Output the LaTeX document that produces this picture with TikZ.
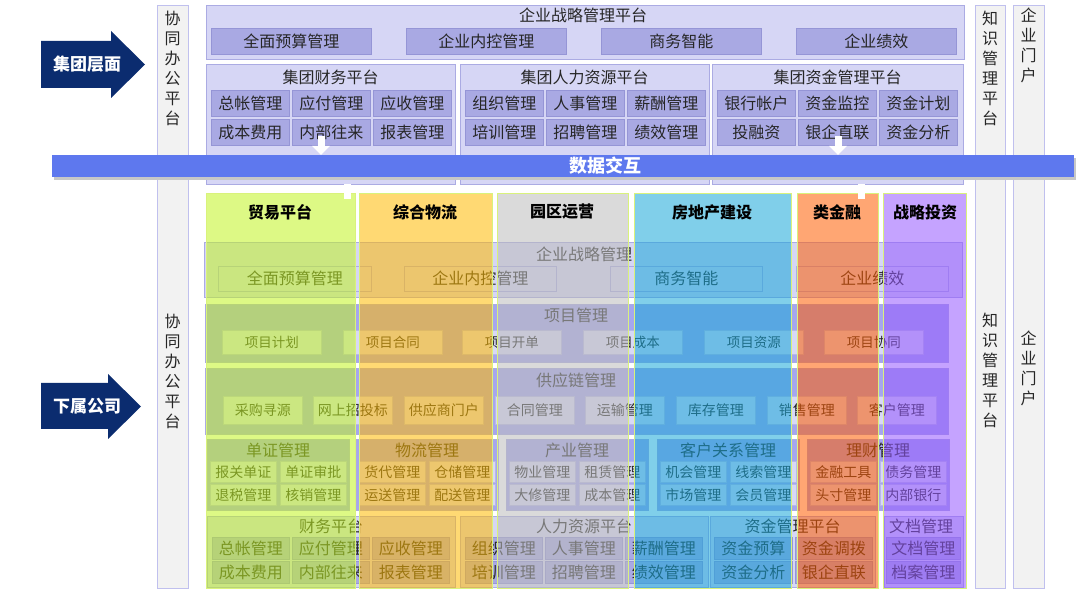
\documentclass[tikz,border=0pt]{standalone}
\usepackage{fontspec}
\setmainfont{Noto Sans CJK SC}
\usetikzlibrary{arrows.meta}
\usepackage{xcolor}
\definecolor{navy}{HTML}{0B2C6F}
\definecolor{ink}{HTML}{262626}
\definecolor{lav}{HTML}{D6D6F5}
\definecolor{lavline}{HTML}{ABABE3}
\definecolor{lavcell}{HTML}{A9A9E3}
\definecolor{lavcellline}{HTML}{9595D6}
\definecolor{lavdeep}{HTML}{A6A6EE}
\definecolor{lavpale}{HTML}{D8D8F6}
\definecolor{paleline}{HTML}{B8B8E8}
\definecolor{sidegray}{HTML}{F2F2F2}
\definecolor{sideline}{HTML}{C0C0EE}
\definecolor{bandblue}{HTML}{5E78EE}
\definecolor{lanegreen}{HTML}{C1F421}
\definecolor{laneyellow}{HTML}{FFBA00}
\definecolor{lanegray}{HTML}{BCBCBC}
\definecolor{laneblue}{HTML}{18A8D9}
\definecolor{laneorange}{HTML}{FF5D00}
\definecolor{lanepurple}{HTML}{9658FF}
\definecolor{laneedge}{HTML}{D9F27C}

\begin{document}
\begin{tikzpicture}[
    x=1pt,
    y=-1pt,
    font=\fontsize{16pt}{20pt}\selectfont,
    sidebar/.style={draw=sideline, fill=sidegray, line width=0.8pt, anchor=north west, inner sep=0pt, minimum height=583pt},
    sidetext/.style={text=ink, align=center, inner sep=0pt},
    leveltext/.style={text=white, inner sep=0pt, font=\fontsize{17pt}{20pt}\selectfont\bfseries},
    platbox/.style={draw=lavline, fill=lav, line width=0.6pt, anchor=north west, inner sep=0pt},
    plattitle/.style={text=ink, inner sep=0pt},
    platcell/.style={draw=lavcellline, fill=lavcell, line width=0.5pt, anchor=north west, inner sep=0pt, text=ink, minimum width=78pt, minimum height=26pt},
    modlight/.style={draw=lavline, fill=lav, line width=0.6pt, anchor=north west, inner sep=0pt},
    moddeep/.style={draw=lavline, fill=lavdeep, line width=0.6pt, anchor=north west, inner sep=0pt},
    modpale/.style={draw=paleline, fill=lavpale, line width=0.5pt, anchor=north west, inner sep=0pt, text=ink},
    smallcell/.style={modpale, font=\fontsize{14pt}{16pt}\selectfont},
    lane/.style={draw=laneedge, line width=0.8pt, fill opacity=0.55, anchor=north west, inner sep=0pt, minimum height=395pt},
    lanehead/.style={text=black, inner sep=0pt, font=\fontsize{16pt}{20pt}\selectfont\bfseries},
    bus/.style={fill=bandblue, anchor=north west, inner sep=0pt, minimum width=1022pt, minimum height=22pt},
    bustext/.style={text=white, inner sep=0pt, font=\fontsize{18pt}{20pt}\selectfont\bfseries},
    pushdown/.style={white, line width=7pt, -{Triangle[width=17pt,length=9pt]}},
    stub/.style={white, line width=7pt}
  ]
  \useasboundingbox (0,0) rectangle (1080,593);

  % side platforms
  \node[sidebar, minimum width=31pt] (office) at (157,5) {};
  \node[sidebar, minimum width=30pt] (know) at (975,5) {};
  \node[sidebar, minimum width=31pt] (portal) at (1013,5) {};
  \node[sidetext] (officeUp) at (172.5,68) {协\\同\\办\\公\\平\\台};
  \node[sidetext] (officeDown) at (172.5,371) {协\\同\\办\\公\\平\\台};
  \node[sidetext] (knowUp) at (990,68) {知\\识\\管\\理\\平\\台};
  \node[sidetext] (knowDown) at (990,370) {知\\识\\管\\理\\平\\台};
  \node[sidetext] (portalUp) at (1028.5,45) {企\\业\\门\\户};
  \node[sidetext] (portalDown) at (1028.5,368) {企\\业\\门\\户};

  % level arrows
  \fill[navy] (41,41) -- (111,41) -- (111,31) -- (145,64.5) -- (111,98) -- (111,88) -- (41,88) -- cycle;
  \node[leveltext] (group) at (87,64.5) {集团层面};
  \fill[navy] (41,383) -- (108,383) -- (108,374) -- (141,406.5) -- (108,439) -- (108,429) -- (41,429) -- cycle;
  \node[leveltext] (subsid) at (87,406.5) {下属公司};

  % group level
  \node[platbox, minimum width=758pt, minimum height=54pt] (strat) at (206,5) {};
  \node[plattitle] (stratTitle) at (583,15.5) {企业战略管理平台};
  \node[platcell, minimum width=160pt] (stratBudget) at (211,28) {全面预算管理};
  \node[platcell, minimum width=160pt] (stratControl) at (406,28) {企业内控管理};
  \node[platcell, minimum width=160pt] (stratBI) at (601,28) {商务智能};
  \node[platcell, minimum width=160pt] (stratKPI) at (796,28) {企业绩效};

  \node[platbox, minimum width=249pt, minimum height=120pt] (fin) at (206,64) {};
  \node[plattitle] (finTitle) at (330.5,77) {集团财务平台};
  \node[platcell] (finLedger) at (211,90) {总帐管理};
  \node[platcell] (finPay) at (292,90) {应付管理};
  \node[platcell] (finRecv) at (373,90) {应收管理};
  \node[platcell] (finCost) at (211,119) {成本费用};
  \node[platcell] (finInner) at (292,119) {内部往来};
  \node[platcell] (finReport) at (373,119) {报表管理};

  \node[platbox, minimum width=249pt, minimum height=120pt] (hr) at (460,64) {};
  \node[plattitle] (hrTitle) at (584.5,77) {集团人力资源平台};
  \node[platcell] (hrOrg) at (465,90) {组织管理};
  \node[platcell] (hrStaff) at (546,90) {人事管理};
  \node[platcell] (hrPay) at (627,90) {薪酬管理};
  \node[platcell] (hrTrain) at (465,119) {培训管理};
  \node[platcell] (hrHire) at (546,119) {招聘管理};
  \node[platcell] (hrPerf) at (627,119) {绩效管理};

  \node[platbox, minimum width=251pt, minimum height=120pt] (cash) at (712,64) {};
  \node[plattitle] (cashTitle) at (837.5,77) {集团资金管理平台};
  \node[platcell] (cashBank) at (717,90) {银行帐户};
  \node[platcell] (cashMon) at (798,90) {资金监控};
  \node[platcell] (cashPlan) at (879,90) {资金计划};
  \node[platcell] (cashInvest) at (717,119) {投融资};
  \node[platcell] (cashDirect) at (798,119) {银企直联};
  \node[platcell] (cashAnalyse) at (879,119) {资金分析};

  % subsidiary level
  \node[modlight, minimum width=758pt, minimum height=55pt] (eStrat) at (204,242) {};
  \node[plattitle] (eStratTitle) at (584,254) {企业战略管理};
  \node[modpale, fill=lav, draw=lavline, minimum width=153pt, minimum height=25pt] (eBudget) at (218,266) {全面预算管理};
  \node[modpale, fill=lav, draw=lavline, minimum width=152pt, minimum height=25pt] (eControl) at (404,266) {企业内控管理};
  \node[modpale, fill=lav, draw=lavline, minimum width=152pt, minimum height=25pt] (eBI) at (610,266) {商务智能};
  \node[modpale, fill=lav, draw=lavline, minimum width=152pt, minimum height=25pt] (eKPI) at (796,266) {企业绩效};

  \node[moddeep, minimum width=743pt, minimum height=58pt] (proj) at (205,304) {};
  \node[plattitle] (projTitle) at (576,315) {项目管理};
  \node[smallcell, minimum width=99pt, minimum height=24pt, font=\fontsize{13.5pt}{16pt}\selectfont] (projPlan) at (222,330) {项目计划};
  \node[smallcell, minimum width=99pt, minimum height=24pt, font=\fontsize{13.5pt}{16pt}\selectfont] (projContract) at (343,330) {项目合同};
  \node[smallcell, minimum width=99pt, minimum height=24pt, font=\fontsize{13.5pt}{16pt}\selectfont] (projOpen) at (462,330) {项目开单};
  \node[smallcell, minimum width=99pt, minimum height=24pt, font=\fontsize{13.5pt}{16pt}\selectfont] (projCost) at (583,330) {项目成本};
  \node[smallcell, minimum width=99pt, minimum height=24pt, font=\fontsize{13.5pt}{16pt}\selectfont] (projRes) at (704,330) {项目资源};
  \node[smallcell, minimum width=99pt, minimum height=24pt, font=\fontsize{13.5pt}{16pt}\selectfont] (projCoop) at (824,330) {项目协同};

  \node[moddeep, minimum width=743pt, minimum height=66pt] (supply) at (205,368) {};
  \node[plattitle] (supplyTitle) at (576,380) {供应链管理};
  \node[smallcell, minimum width=79pt, minimum height=28pt] (supSource) at (223,396) {采购寻源};
  \node[smallcell, minimum width=79pt, minimum height=28pt] (supBid) at (313,396) {网上招投标};
  \node[smallcell, minimum width=79pt, minimum height=28pt] (supVendor) at (404,396) {供应商门户};
  \node[smallcell, minimum width=79pt, minimum height=28pt] (supContract) at (495,396) {合同管理};
  \node[smallcell, minimum width=79pt, minimum height=28pt] (supShip) at (585,396) {运输管理};
  \node[smallcell, minimum width=79pt, minimum height=28pt] (supStock) at (676,396) {库存管理};
  \node[smallcell, minimum width=79pt, minimum height=28pt] (supSales) at (767,396) {销售管理};
  \node[smallcell, minimum width=79pt, minimum height=28pt] (supClient) at (857,396) {客户管理};

  \node[moddeep, minimum width=142pt, minimum height=71pt] (cert) at (207,439) {};
  \node[plattitle] (certTitle) at (278,450) {单证管理};
  \node[smallcell, minimum width=66pt, minimum height=21pt] (certCustoms) at (210,461) {报关单证};
  \node[smallcell, minimum width=66pt, minimum height=21pt] (certApprove) at (280,461) {单证审批};
  \node[smallcell, minimum width=66pt, minimum height=21pt] (certRefund) at (210,484) {退税管理};
  \node[smallcell, minimum width=66pt, minimum height=21pt] (certWriteoff) at (280,484) {核销管理};

  \node[moddeep, minimum width=142pt, minimum height=71pt] (logi) at (356,439) {};
  \node[plattitle] (logiTitle) at (427,450) {物流管理};
  \node[smallcell, minimum width=66pt, minimum height=21pt] (logiFwd) at (359,461) {货代管理};
  \node[smallcell, minimum width=66pt, minimum height=21pt] (logiStore) at (429,461) {仓储管理};
  \node[smallcell, minimum width=66pt, minimum height=21pt] (logiShip) at (359,484) {运送管理};
  \node[smallcell, minimum width=66pt, minimum height=21pt] (logiDeliver) at (429,484) {配送管理};

  \node[moddeep, minimum width=142pt, minimum height=71pt] (ind) at (506,439) {};
  \node[plattitle] (indTitle) at (577,450) {产业管理};
  \node[smallcell, minimum width=66pt, minimum height=21pt] (indProperty) at (509,461) {物业管理};
  \node[smallcell, minimum width=66pt, minimum height=21pt] (indLease) at (579,461) {租赁管理};
  \node[smallcell, minimum width=66pt, minimum height=21pt] (indRepair) at (509,484) {大修管理};
  \node[smallcell, minimum width=66pt, minimum height=21pt] (indCost) at (579,484) {成本管理};

  \node[moddeep, minimum width=142pt, minimum height=71pt] (crm) at (657,439) {};
  \node[plattitle] (crmTitle) at (728,450) {客户关系管理};
  \node[smallcell, minimum width=66pt, minimum height=21pt] (crmChance) at (660,461) {机会管理};
  \node[smallcell, minimum width=66pt, minimum height=21pt] (crmLead) at (730,461) {线索管理};
  \node[smallcell, minimum width=66pt, minimum height=21pt] (crmMarket) at (660,484) {市场管理};
  \node[smallcell, minimum width=66pt, minimum height=21pt] (crmMember) at (730,484) {会员管理};

  \node[moddeep, minimum width=142pt, minimum height=71pt] (wealth) at (807,439) {};
  \node[plattitle] (wealthTitle) at (878,450) {理财管理};
  \node[smallcell, minimum width=66pt, minimum height=21pt] (wealthTool) at (810,461) {金融工具};
  \node[smallcell, minimum width=66pt, minimum height=21pt] (wealthDebt) at (880,461) {债务管理};
  \node[smallcell, minimum width=66pt, minimum height=21pt] (wealthPos) at (810,484) {头寸管理};
  \node[smallcell, minimum width=66pt, minimum height=21pt] (wealthBank) at (880,484) {内部银行};

  \node[modlight, minimum width=248pt, minimum height=71pt] (subFin) at (207,516) {};
  \node[plattitle] (subFinTitle) at (331,526) {财务平台};
  \node[platcell, minimum width=77pt, minimum height=22pt] (subLedger) at (212,537) {总帐管理};
  \node[platcell, minimum width=77pt, minimum height=22pt] (subPay) at (292,537) {应付管理};
  \node[platcell, minimum width=77pt, minimum height=22pt] (subRecv) at (372,537) {应收管理};
  \node[platcell, minimum width=77pt, minimum height=22pt] (subCost) at (212,561) {成本费用};
  \node[platcell, minimum width=77pt, minimum height=22pt] (subInner) at (292,561) {内部往来};
  \node[platcell, minimum width=77pt, minimum height=22pt] (subReport) at (372,561) {报表管理};

  \node[modlight, minimum width=248pt, minimum height=71pt] (subHr) at (460,516) {};
  \node[plattitle] (subHrTitle) at (584,526) {人力资源平台};
  \node[platcell, minimum width=77pt, minimum height=22pt] (subOrg) at (465,537) {组织管理};
  \node[platcell, minimum width=77pt, minimum height=22pt] (subStaff) at (545,537) {人事管理};
  \node[platcell, minimum width=77pt, minimum height=22pt] (subSalary) at (625,537) {薪酬管理};
  \node[platcell, minimum width=77pt, minimum height=22pt] (subTrain) at (465,561) {培训管理};
  \node[platcell, minimum width=77pt, minimum height=22pt] (subHire) at (545,561) {招聘管理};
  \node[platcell, minimum width=77pt, minimum height=22pt] (subPerf) at (625,561) {绩效管理};

  \node[modlight, minimum width=165pt, minimum height=71pt] (subCash) at (710,516) {};
  \node[plattitle] (subCashTitle) at (792.5,526) {资金管理平台};
  \node[platcell, minimum width=78pt, minimum height=22pt] (subBudget) at (714,537) {资金预算};
  \node[platcell, minimum width=77pt, minimum height=22pt] (subAlloc) at (795,537) {资金调拨};
  \node[platcell, minimum width=78pt, minimum height=22pt] (subAnalyse) at (714,561) {资金分析};
  \node[platcell, minimum width=77pt, minimum height=22pt] (subDirect) at (795,561) {银企直联};

  \node[modlight, minimum width=79pt, minimum height=71pt] (doc) at (884,516) {};
  \node[plattitle] (docTitle) at (921,526) {文档管理};
  \node[platcell, minimum width=74pt, minimum height=22pt] (docFile) at (886,537) {文档管理};
  \node[platcell, minimum width=74pt, minimum height=22pt] (docArchive) at (886,561) {档案管理};

  % business lanes
  \node[lane, fill=lanegreen, minimum width=149pt] (trade) at (206,193) {};
  \node[lane, fill=laneyellow, minimum width=133pt] (logistics) at (359,193) {};
  \node[lane, fill=lanegray, minimum width=131pt] (park) at (497,193) {};
  \node[lane, fill=laneblue, minimum width=157pt] (estate) at (634,193) {};
  \node[lane, fill=laneorange, minimum width=81pt] (quasi) at (797,193) {};
  \node[lane, fill=lanepurple, minimum width=83pt] (invest) at (883,193) {};
  \node[lanehead] (tradeHead) at (280,212) {贸易平台};
  \node[lanehead] (logisticsHead) at (425,212) {综合物流};
  \node[lanehead] (parkHead) at (562,212) {园区运营};
  \node[lanehead] (estateHead) at (712,212) {房地产建设};
  \node[lanehead] (quasiHead) at (837,212) {类金融};
  \node[lanehead] (investHead) at (925,212) {战略投资};

  % data exchange
  \fill[black!22] (54,158) rectangle (1076,180);
  \node[bus] (exchange) at (52,155) {};
  \node[bustext] (exchangeText) at (605,166) {数据交互};

  \coordinate (finOutTop) at (321,136);
  \coordinate (finOutTip) at (321,155);
  \coordinate (cashOutTop) at (838,136);
  \coordinate (cashOutTip) at (838,155);
  \draw[pushdown] (finOutTop) -- (finOutTip);
  \draw[pushdown] (cashOutTop) -- (cashOutTip);

  \coordinate (tradeStubLow) at (347,199);
  \coordinate (tradeStubHigh) at (347,184);
  \coordinate (quasiStubLow) at (861,199);
  \coordinate (quasiStubHigh) at (861,184);
  \draw[stub] (tradeStubLow) -- (tradeStubHigh);
  \draw[stub] (quasiStubLow) -- (quasiStubHigh);
\end{tikzpicture}
\end{document}
